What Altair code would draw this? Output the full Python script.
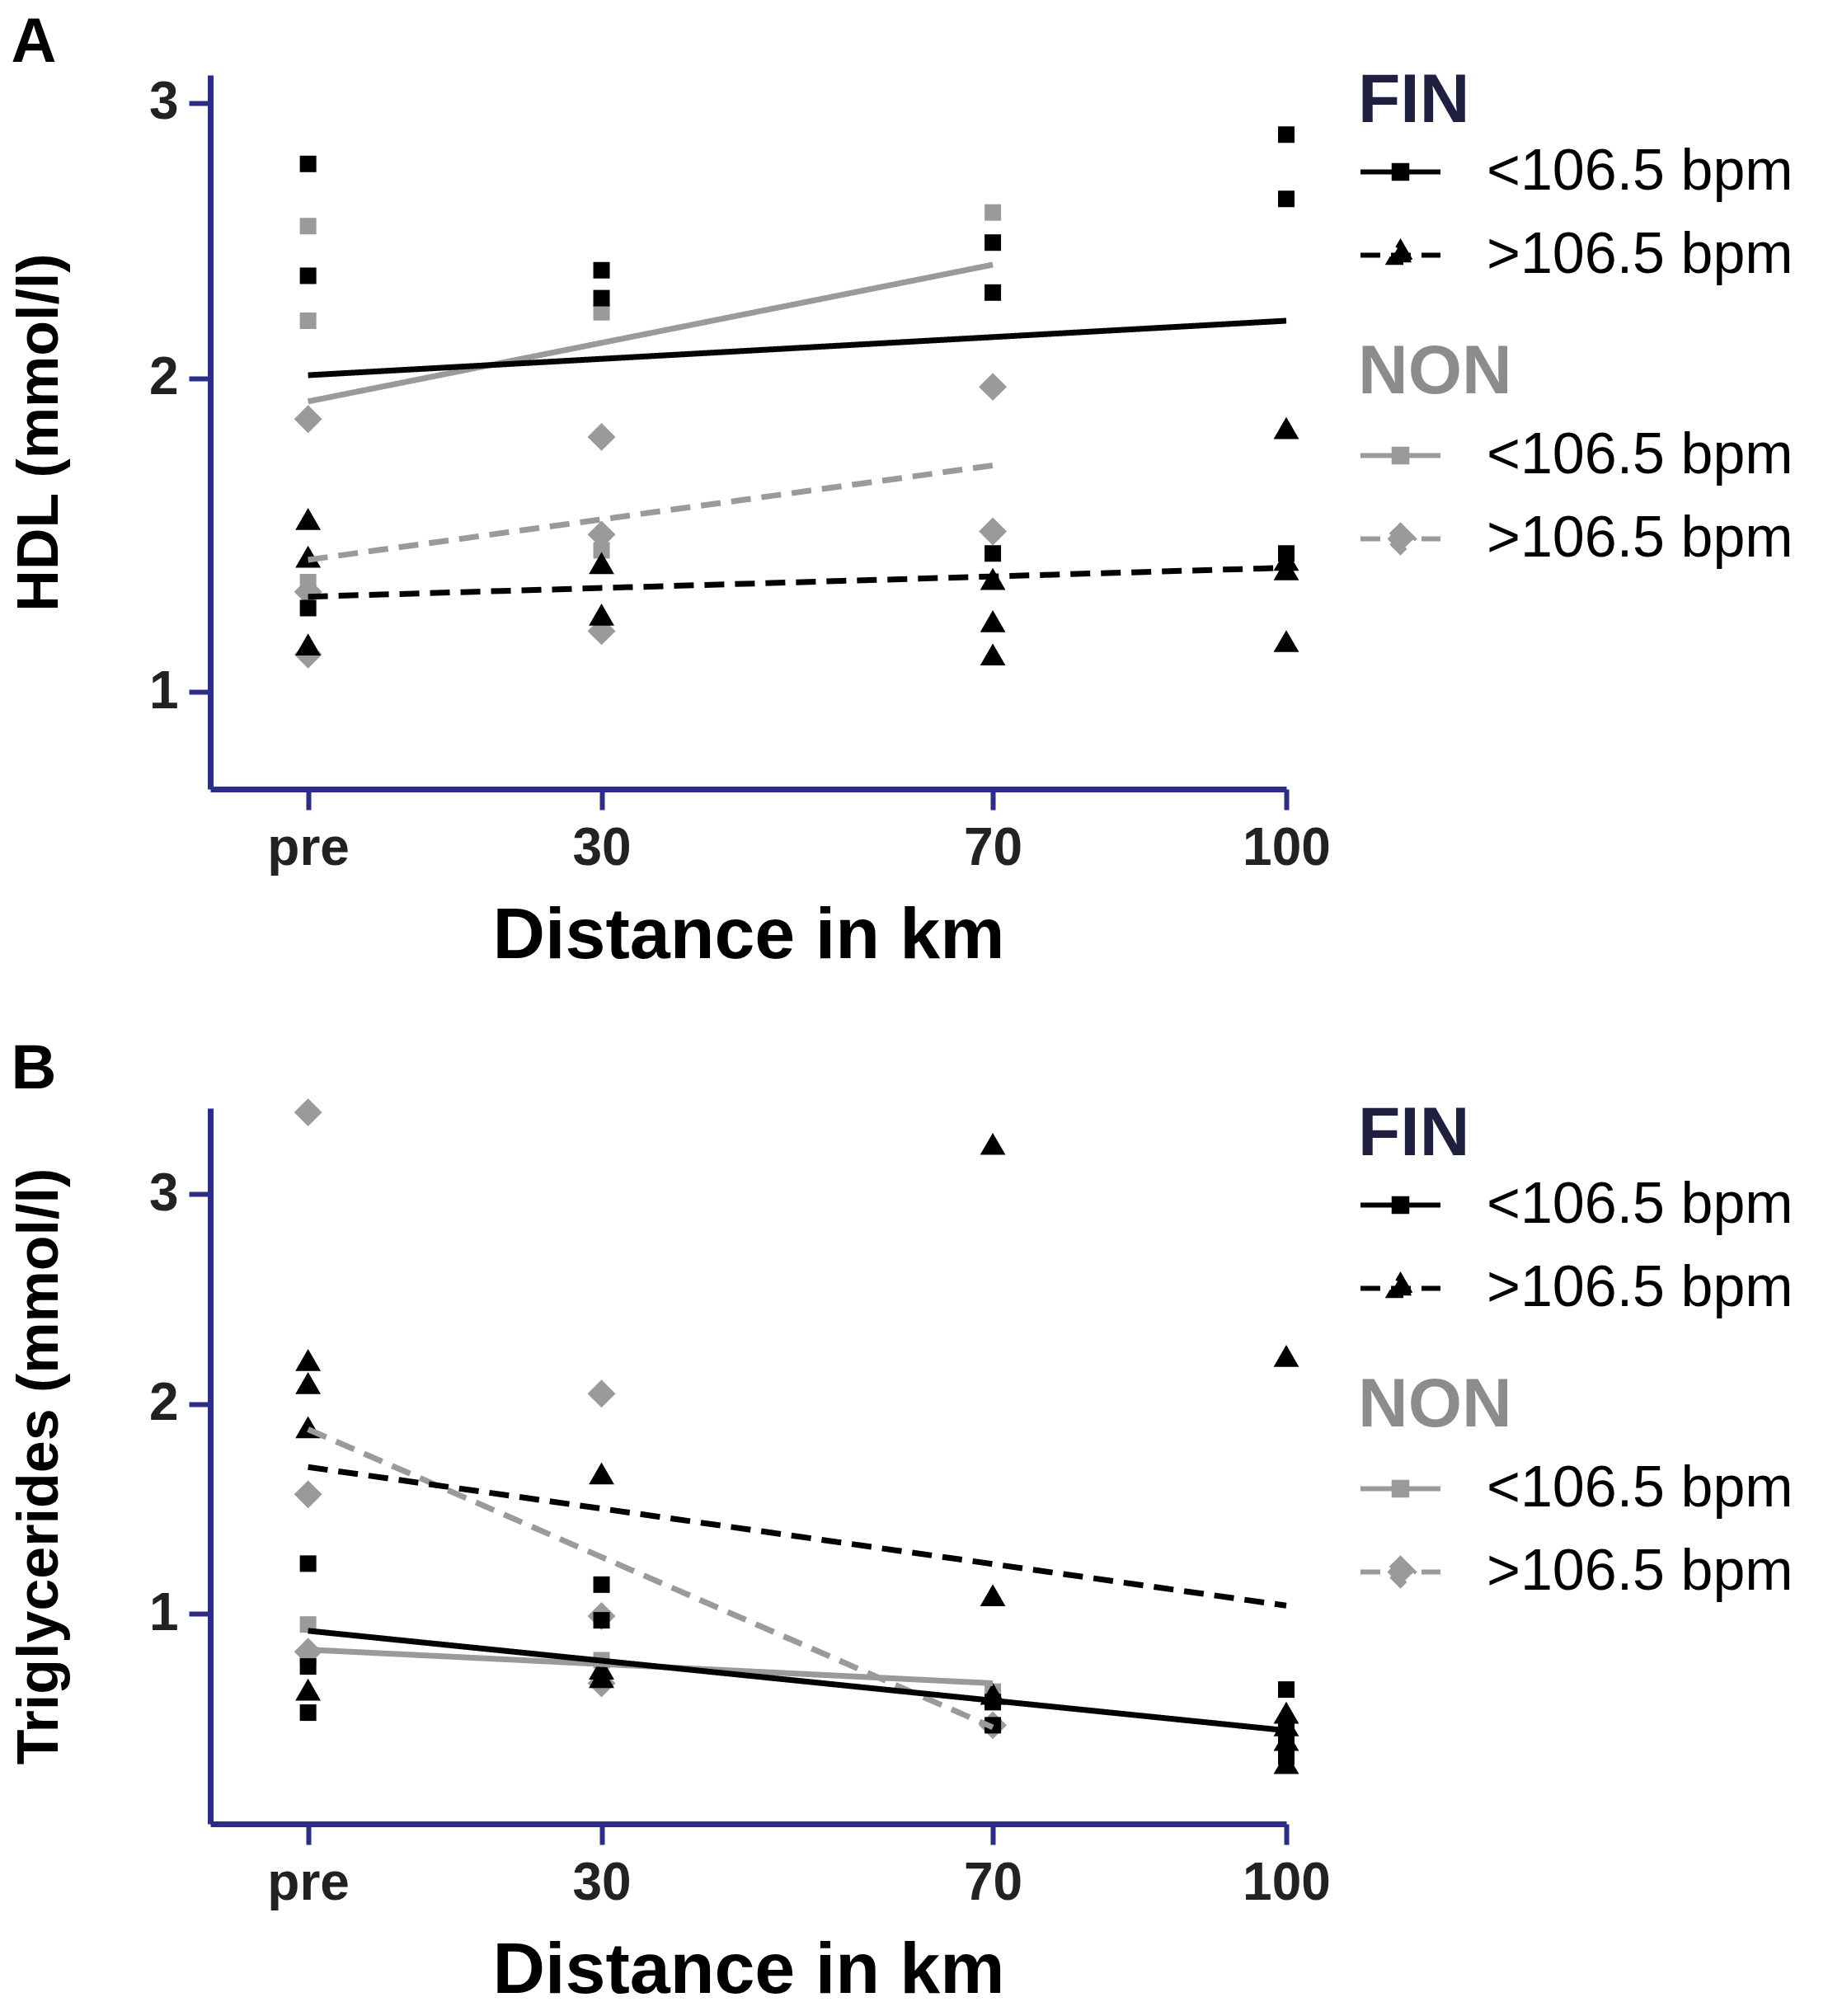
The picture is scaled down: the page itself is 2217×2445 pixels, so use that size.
import altair as alt
import pandas as pd

FONT = "Liberation Sans, Arial, sans-serif"
AXIS_COLOR = "#2b2d86"
BLACK = "#000000"
GRAY = "#9a9a9a"

X_TICKS = [0, 30, 70, 100]
GROUPS = ["<106.5 bpm", ">106.5 bpm"]

# ---------------- Panel A : HDL (mmol/l) ----------------
A_FIN_LOW_X = [0, 0, 0, 30, 30, 70, 70, 70, 100, 100, 100]
A_FIN_LOW_Y = [2.77, 2.36, 1.25, 2.38, 2.28, 2.48, 2.30, 1.42, 2.88, 2.64, 1.42]
A_FIN_HIGH_X = [0, 0, 0, 30, 30, 70, 70, 70, 100, 100, 100, 100]
A_FIN_HIGH_Y = [1.53, 1.41, 1.14, 1.39, 1.23, 1.34, 1.21, 1.11, 1.83, 1.40, 1.37, 1.15]
A_NON_LOW_X = [0, 0, 0, 30, 30, 70]
A_NON_LOW_Y = [2.54, 2.20, 1.33, 2.23, 1.43, 2.59]
A_NON_HIGH_X = [0, 0, 0, 30, 30, 30, 70, 70]
A_NON_HIGH_Y = [1.86, 1.30, 1.11, 1.80, 1.48, 1.18, 1.97, 1.49]
A_FIT_FIN_X = [0, 100]
A_FIT_FIN_LOW = [2.01, 2.20]
A_FIT_FIN_HIGH = [1.285, 1.375]
A_FIT_NON_X = [0, 70]
A_FIT_NON_LOW = [1.92, 2.40]
A_FIT_NON_HIGH = [1.40, 1.705]

# ---------------- Panel B : Triglycerides (mmol/l) ----------------
B_FIN_LOW_X = [0, 0, 0, 30, 30, 70, 70, 100, 100, 100, 100]
B_FIN_LOW_Y = [1.24, 0.75, 0.53, 1.14, 0.97, 0.58, 0.47, 0.64, 0.46, 0.39, 0.32]
B_FIN_HIGH_X = [0, 0, 0, 0, 30, 30, 30, 70, 70, 70, 100, 100, 100, 100, 100]
B_FIN_HIGH_Y = [2.21, 2.10, 1.89, 0.64, 1.67, 0.74, 0.70, 3.24, 1.09, 0.62, 2.23, 0.53, 0.47, 0.40, 0.29]
B_NON_LOW_X = [0, 0, 30, 70]
B_NON_LOW_Y = [0.95, 0.80, 0.78, 0.63]
B_NON_HIGH_X = [0, 0, 0, 30, 30, 30, 70]
B_NON_HIGH_Y = [3.39, 1.57, 0.82, 2.05, 0.99, 0.67, 0.47]
B_FIT_FIN_X = [0, 100]
B_FIT_FIN_LOW = [0.92, 0.445]
B_FIT_FIN_HIGH = [1.70, 1.04]
B_FIT_NON_X = [0, 70]
B_FIT_NON_LOW = [0.83, 0.67]
B_FIT_NON_HIGH = [1.88, 0.46]

# legend symbol paths (line + marker), unit box [-1, 1]
SYM_SQ = "M-1,0H1M-0.16,-0.16H0.16V0.16H-0.16Z"
SYM_TRI = "M-1,0H1M0,-0.3L0.28,0.18H-0.28Z"
SYM_DIA = "M-1,0H1M0,-0.33L0.33,0L0,0.33L-0.33,0Z"

SOLID = [1, 0]
DASH = [24, 13]


def x_enc():
    return alt.X(
        "x:Q",
        scale=alt.Scale(domain=[-10, 100], nice=False, zero=False),
        axis=alt.Axis(
            values=X_TICKS,
            labelExpr="datum.value === 0 ? 'pre' : datum.label",
            title="Distance in km",
            titleFontSize=88,
            titlePadding=30,
            labelPadding=15,
            tickSize=25,
        ),
    )


def y_enc(title, scale, ticks):
    return alt.Y(
        "y:Q",
        scale=scale,
        axis=alt.Axis(
            values=ticks,
            title=title,
            titleFontSize=70,
            titlePadding=96,
            labelPadding=13,
            tickSize=26,
        ),
    )


def pts(xs, ys, shape, color, size, X, Y):
    df = pd.DataFrame({"x": xs, "y": ys})
    return alt.Chart(df).mark_point(
        shape=shape, filled=True, color=color, size=size, opacity=1, strokeWidth=0
    ).encode(x=X, y=Y)


def fit_line(xs, ys, color, dash, X, Y):
    df = pd.DataFrame({"x": xs, "y": ys})
    return alt.Chart(df).mark_line(color=color, strokeWidth=7, strokeDash=dash).encode(x=X, y=Y)


def legend_layer(xs, ys, title, color, title_color, sym_high, X, Y, title_pad, line_height):
    df = pd.DataFrame({"x": xs, "y": ys, "grp": GROUPS})
    leg = alt.Legend(
        title=title,
        orient="right",
        offset=96,
        padding=-9,
        titleFont=FONT,
        titleFontSize=84,
        titleFontWeight="bold",
        titleColor=title_color,
        titlePadding=title_pad,
        titleLineHeight=line_height,
        titleLimit=0,
        labelFont=FONT,
        labelFontSize=70,
        labelFontWeight="normal",
        labelColor=BLACK,
        labelLimit=0,
        labelOffset=53,
        symbolSize=9409,
        symbolStrokeWidth=6,
        rowPadding=14,
    )
    return alt.Chart(df).transform_filter("datum.x < -1000").mark_point(
        filled=True, strokeWidth=6, opacity=1
    ).encode(
        x=X,
        y=Y,
        fill=alt.Fill("grp:N", scale=alt.Scale(domain=GROUPS, range=[color, color]), legend=leg),
        stroke=alt.Stroke("grp:N", scale=alt.Scale(domain=GROUPS, range=[color, color]), legend=leg),
        shape=alt.Shape("grp:N", scale=alt.Scale(domain=GROUPS, range=[SYM_SQ, sym_high]), legend=leg),
        strokeDash=alt.StrokeDash("grp:N", scale=alt.Scale(domain=GROUPS, range=[SOLID, DASH]), legend=leg),
    )


def panel(letter, title_offset, ytitle, yscale, yticks, height,
          fin_low, fin_high, non_low, non_high,
          fit_fin_x, fit_fin_low, fit_fin_high, fit_non_x, fit_non_low, fit_non_high):
    X = x_enc()
    Y = y_enc(ytitle, yscale, yticks)
    layers = [
        pts(non_low[0], non_low[1], "square", GRAY, 400, X, Y),
        pts(non_high[0], non_high[1], "diamond", GRAY, 1150, X, Y),
        pts(fin_low[0], fin_low[1], "square", BLACK, 400, X, Y),
        pts(fin_high[0], fin_high[1], "triangle-up", BLACK, 950, X, Y),
        fit_line(fit_non_x, fit_non_low, GRAY, SOLID, X, Y),
        fit_line(fit_non_x, fit_non_high, GRAY, DASH, X, Y),
        fit_line(fit_fin_x, fit_fin_low, BLACK, SOLID, X, Y),
        fit_line(fit_fin_x, fit_fin_high, BLACK, DASH, X, Y),
        legend_layer(fit_fin_x, fit_fin_low, "FIN", BLACK, "#1f2040", SYM_TRI, X, Y, -9, 84),
        legend_layer(fit_non_x, fit_non_low, ["", "NON"], GRAY, "#8c8c8c", SYM_DIA, X, Y, 6, 76),
    ]
    return alt.layer(*layers).resolve_scale(
        fill="independent", stroke="independent", shape="independent", strokeDash="independent"
    ).properties(
        width=1305,
        height=height,
        title=alt.TitleParams(
            text=letter, anchor="start", frame="bounds", fontSize=76, fontWeight="bold",
            font=FONT, color=BLACK, offset=title_offset, dx=0,
        ),
    )


chart_a = panel(
    "A", 0, "HDL (mmol/l)",
    alt.Scale(type="pow", exponent=0.75, domain=[0.729, 3.107], nice=False, zero=False),
    [1, 2, 3], 866,
    (A_FIN_LOW_X, A_FIN_LOW_Y), (A_FIN_HIGH_X, A_FIN_HIGH_Y),
    (A_NON_LOW_X, A_NON_LOW_Y), (A_NON_HIGH_X, A_NON_HIGH_Y),
    A_FIT_FIN_X, A_FIT_FIN_LOW, A_FIT_FIN_HIGH, A_FIT_NON_X, A_FIT_NON_LOW, A_FIT_NON_HIGH,
)

chart_b = panel(
    "B", -4, "Triglycerides (mmol/l)",
    alt.Scale(domain=[0, 3.41], nice=False, zero=False),
    [1, 2, 3], 868,
    (B_FIN_LOW_X, B_FIN_LOW_Y), (B_FIN_HIGH_X, B_FIN_HIGH_Y),
    (B_NON_LOW_X, B_NON_LOW_Y), (B_NON_HIGH_X, B_NON_HIGH_Y),
    B_FIT_FIN_X, B_FIT_FIN_LOW, B_FIT_FIN_HIGH, B_FIT_NON_X, B_FIT_NON_LOW, B_FIT_NON_HIGH,
)

chart = alt.vconcat(chart_a, chart_b, spacing=80).properties(
    padding={"left": 5, "top": 6, "right": 24, "bottom": 0},
    background="white",
).configure_view(stroke=None).configure_axis(
    domainColor=AXIS_COLOR,
    domainWidth=7,
    tickColor=AXIS_COLOR,
    tickWidth=6,
    grid=False,
    labelFont=FONT,
    labelFontSize=64,
    labelFontWeight="bold",
    labelColor="#222222",
    titleFont=FONT,
    titleFontWeight="bold",
    titleColor=BLACK,
    labelFlush=False,
    labelOverlap=False,
)

chart.save("out.html", embed_options={"renderer": "svg", "actions": False})
